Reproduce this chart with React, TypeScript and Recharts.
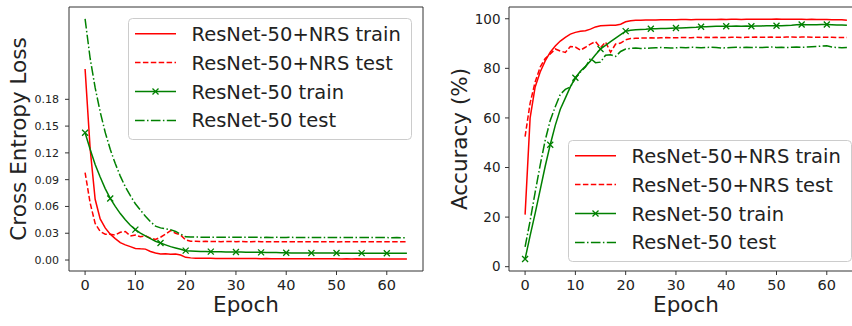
import React from "react";
import { LineChart, Line, XAxis, YAxis, ReferenceArea, Legend } from "recharts";

const epochs = Array.from({ length: 65 }, (_, i) => i);
const epochTicks = [0, 10, 20, 30, 40, 50, 60];
const lossTicks = [0, 0.03, 0.06, 0.09, 0.12, 0.15, 0.18];
const accTicks = [0, 20, 40, 60, 80, 100];

const lossNrsTrain = [
  0.214, 0.125, 0.068, 0.046, 0.036, 0.029, 0.024, 0.0195, 0.017, 0.015,
  0.013, 0.0125, 0.0122, 0.0095, 0.0078, 0.0068, 0.0069, 0.0066, 0.0068, 0.0056,
  0.003, 0.0024, 0.0021, 0.002, 0.0019, 0.0019, 0.0018, 0.0018, 0.0017, 0.0018,
  0.0017, 0.0016, 0.0017, 0.0016, 0.0016, 0.0015, 0.0016, 0.0015, 0.0015, 0.0014,
  0.0015, 0.0014, 0.0015, 0.0014, 0.0014, 0.0013, 0.0014, 0.0013, 0.0014, 0.0013,
  0.0013, 0.0012, 0.0013, 0.0012, 0.0013, 0.0012, 0.0012, 0.0011, 0.0012, 0.0012,
  0.0011, 0.0012, 0.0011, 0.0011, 0.0011,
];
const lossNrsTest = [
  0.098, 0.064, 0.041, 0.032, 0.029, 0.029, 0.028, 0.031, 0.032, 0.027,
  0.028, 0.026, 0.027, 0.0245, 0.023, 0.0255, 0.029, 0.033, 0.03, 0.028,
  0.0225, 0.021, 0.021, 0.0208, 0.021, 0.0207, 0.0208, 0.0206, 0.0207, 0.0208,
  0.0206, 0.0207, 0.0206, 0.0205, 0.0207, 0.0206, 0.0205, 0.0206, 0.0205, 0.0206,
  0.0205, 0.0206, 0.0204, 0.0205, 0.0206, 0.0205, 0.0204, 0.0205, 0.0206, 0.0204,
  0.0203, 0.0205, 0.0204, 0.0205, 0.0204, 0.0205, 0.0204, 0.0206, 0.0205, 0.0204,
  0.0205, 0.0205, 0.0206, 0.0205, 0.0205,
];
const lossBaseTrain = [
  0.1425, 0.124, 0.107, 0.093, 0.08, 0.069, 0.06, 0.052, 0.045, 0.039,
  0.034, 0.03, 0.027, 0.024, 0.021, 0.019, 0.017, 0.015, 0.0135, 0.012,
  0.0105, 0.0101, 0.0098, 0.0096, 0.0095, 0.0094, 0.0093, 0.0092, 0.0091, 0.009,
  0.009, 0.0089, 0.0088, 0.0088, 0.0087, 0.0086, 0.0085, 0.0084, 0.0083, 0.0082,
  0.0081, 0.008, 0.008, 0.0079, 0.0079, 0.0079, 0.0078, 0.0078, 0.0078, 0.0078,
  0.0078, 0.0077, 0.0077, 0.0077, 0.0077, 0.0077, 0.0076, 0.0076, 0.0076, 0.0076,
  0.0076, 0.0075, 0.0075, 0.0075, 0.0075,
];
const lossBaseTest = [
  0.27, 0.226, 0.193, 0.166, 0.143, 0.124, 0.108, 0.094, 0.082, 0.072,
  0.063, 0.056, 0.049, 0.043, 0.038, 0.036, 0.035, 0.034, 0.032, 0.029,
  0.026, 0.0258, 0.0257, 0.0256, 0.0256, 0.0255, 0.0256, 0.0255, 0.0254, 0.0255,
  0.0255, 0.0254, 0.0255, 0.0254, 0.0254, 0.0253, 0.0254, 0.0253, 0.0254, 0.0253,
  0.0253, 0.0254, 0.0253, 0.0252, 0.0253, 0.0252, 0.0253, 0.0252, 0.0252, 0.0253,
  0.0252, 0.0251, 0.0252, 0.0251, 0.0252, 0.0251, 0.0251, 0.0252, 0.0251, 0.0251,
  0.0251, 0.025, 0.0251, 0.025, 0.025,
];

const accNrsTrain = [
  21, 60, 72.5, 78.5, 83, 86.5, 89, 91, 92.5, 93.8,
  94.5, 95, 95.2, 95.8, 96.7, 97.2, 97.3, 97.4, 97.4, 97.8,
  98.8, 99.2, 99.4, 99.4, 99.5, 99.5, 99.5, 99.6, 99.6, 99.6,
  99.6, 99.7, 99.7, 99.6, 99.7, 99.7, 99.7, 99.7, 99.7, 99.8,
  99.7, 99.8, 99.8, 99.7, 99.8, 99.8, 99.8, 99.8, 99.8, 99.8,
  99.9, 99.8, 99.8, 99.8, 99.8, 99.8, 99.7, 99.8, 99.7, 99.7,
  99.7, 99.6, 99.6, 99.6, 99.4,
];
const accNrsTest = [
  52.5, 66, 74.5, 80.5, 84, 85.8, 87.8, 87, 86.4, 88.8,
  88.6, 87.3, 88.5, 89.8, 90.8, 88.3, 90.6, 86.5, 89.8, 90.2,
  91.5, 92, 92.1, 92.2, 92.2, 92.3, 92.2, 92.3, 92.4, 92.3,
  92.3, 92.4, 92.4, 92.3, 92.5, 92.4, 92.5, 92.4, 92.5, 92.4,
  92.4, 92.5, 92.5, 92.4, 92.5, 92.5, 92.6, 92.5, 92.5, 92.6,
  92.5, 92.5, 92.6, 92.6, 92.5, 92.6, 92.6, 92.5, 92.5, 92.6,
  92.5, 92.5, 92.4, 92.4, 92.4,
];
const accBaseTrain = [
  3.1, 12.5, 21.5, 31, 40.5, 49.2, 57, 63.5, 68, 72.5,
  76.2, 78.8, 80.8, 83, 85.5, 87.8, 89.3, 90.8, 92.2, 93.6,
  95, 95.4, 95.6, 95.7, 95.8, 96, 96, 96.1, 96.1, 96.2,
  96.3, 96.3, 96.4, 96.5, 96.6, 96.8, 96.8, 96.9, 97, 97,
  97, 97, 97.1, 97, 97.1, 97, 97.1, 97.1, 97.2, 97.2,
  97.2, 97.2, 97.3, 97.4, 97.6, 97.7, 97.6, 97.6, 97.6, 97.7,
  97.7, 97.6, 97.5, 97.5, 97.4,
];
const accBaseTest = [
  8, 18.5, 30, 41, 51, 59, 64.5, 69.5, 71.5, 72.5,
  76, 78.5, 80.5, 84, 82.3, 82.5, 85.3, 85.5, 84.8, 86.8,
  87.8, 88, 88.2, 88, 88.1, 88.2, 88.3, 88.4, 88.3, 88.2,
  88.3, 88.4, 88.3, 88.5, 88.4, 88.3, 88.4, 88.5, 88.4, 88.2,
  88.3, 88.4, 88.5, 88.4, 88.5, 88.4, 88.5, 88.4, 88.5, 88.6,
  88.4, 88.5, 88.4, 88.5, 88.6, 88.5, 88.6, 88.7, 88.8, 89,
  89.1, 88.6, 88.4, 88.3, 88.4,
];

const RED = "#ff0000";
const GREEN = "#008000";
const FONT = "DejaVu Sans";
const INK = "#222";
const FRAME = "#333";

// matplotlib-like 5% margins around the data
const xDomain = [-3.2, 67.2];
const lossDomain = [-0.0123, 0.2834];
const accDomain = [-1.74, 104.74];

const series = [
  { key: "nrsTrain", name: "ResNet-50+NRS train", color: RED, dash: undefined, marker: false },
  { key: "nrsTest", name: "ResNet-50+NRS test", color: RED, dash: "5.5 2.4", marker: false },
  { key: "baseTrain", name: "ResNet-50 train", color: GREEN, dash: undefined, marker: true },
  { key: "baseTest", name: "ResNet-50 test", color: GREEN, dash: "9.6 2.4 1.5 2.4", marker: false },
];

const lossData = epochs.map((e, i) => ({
  epoch: e,
  nrsTrain: lossNrsTrain[i],
  nrsTest: lossNrsTest[i],
  baseTrain: lossBaseTrain[i],
  baseTest: lossBaseTest[i],
}));

const accData = epochs.map((e, i) => ({
  epoch: e,
  nrsTrain: accNrsTrain[i],
  nrsTest: accNrsTest[i],
  baseTrain: accBaseTrain[i],
  baseTest: accBaseTest[i],
}));

const XMark = ({ cx, cy, color }: any) => (
  <path
    d={`M${cx - 3},${cy - 3}L${cx + 3},${cy + 3}M${cx - 3},${cy + 3}L${cx + 3},${cy - 3}`}
    stroke={color}
    strokeWidth={1.3}
    fill="none"
  />
);

const renderMarker = (props: any) => {
  const { cx, cy, index } = props;
  if (index % 5 !== 0) return <g key={`m-${index}`} />;
  return <XMark key={`m-${index}`} cx={cx} cy={cy} color={GREEN} />;
};

const LegendBox = () => (
  <svg width={284} height={122} style={{ display: "block" }}>
    <rect x={0.5} y={0.5} width={283} height={121} rx={4} fill="#fff" fillOpacity={0.8} stroke="#cccccc" />
    {series.map((s, i) => {
      const y = 15.7 + i * 28.9;
      return (
        <g key={s.key}>
          <line x1={7} x2={48} y1={y} y2={y} stroke={s.color} strokeWidth={1.5} strokeDasharray={s.dash} />
          {s.marker && <XMark cx={27.5} cy={y} color={s.color} />}
          <text x={63.5} y={y} dy="0.36em" fontSize={19.5} fontFamily={FONT} fill={INK}>
            {s.name}
          </text>
        </g>
      );
    })}
  </svg>
);

const lines = () =>
  series.map((s) => (
    <Line
      key={s.key}
      type="linear"
      dataKey={s.key}
      stroke={s.color}
      strokeWidth={1.5}
      strokeDasharray={s.dash}
      dot={s.marker ? renderMarker : false}
      activeDot={false}
      isAnimationActive={false}
    />
  ));

const tickStyle = (size: number) => ({ fontSize: size, fill: INK, fontFamily: FONT });

const App = () => {
  return (
    <div style={{ position: "absolute", left: 0, top: 0, width: 852, height: 326, overflow: "hidden", background: "#fff", fontFamily: FONT }}>
      <div style={{ position: "absolute", left: 0, top: 0 }}>
        <LineChart width={430} height={326} data={lossData} margin={{ top: 7, right: 7, bottom: 0, left: 0 }}>
          <XAxis
            dataKey="epoch"
            type="number"
            domain={xDomain}
            ticks={epochTicks}
            allowDataOverflow
            axisLine={false}
            tickSize={4}
            tickMargin={5}
            tickLine={{ stroke: FRAME }}
            tick={tickStyle(14.5)}
            height={55}
            label={{ value: "Epoch", position: "insideBottom", offset: 14, style: { fontSize: 21.5, fill: INK, fontFamily: FONT } }}
          />
          <YAxis
            type="number"
            domain={lossDomain}
            ticks={lossTicks}
            allowDataOverflow
            axisLine={false}
            tickSize={4}
            tickMargin={6}
            tickLine={{ stroke: FRAME }}
            tick={tickStyle(11)}
            tickFormatter={(v: number) => v.toFixed(2)}
            width={69}
            label={{ value: "Cross Entropy Loss", angle: -90, position: "insideLeft", offset: 18, style: { textAnchor: "middle", fontSize: 21.5, fill: INK, fontFamily: FONT } }}
          />
          <ReferenceArea x1={xDomain[0]} x2={xDomain[1]} y1={lossDomain[0]} y2={lossDomain[1]} fill="none" stroke={FRAME} strokeWidth={1} />
          {lines()}
          <Legend
            verticalAlign="middle"
            align="center"
            content={() => <LegendBox />}
            wrapperStyle={{ position: "absolute", left: 128, top: 18, width: 284, height: 122 }}
          />
        </LineChart>
      </div>
      <div style={{ position: "absolute", left: 430, top: 0 }}>
        <LineChart width={440} height={326} data={accData} margin={{ top: 7, right: 7, bottom: 0, left: 0 }}>
          <XAxis
            dataKey="epoch"
            type="number"
            domain={xDomain}
            ticks={epochTicks}
            allowDataOverflow
            axisLine={false}
            tickSize={4}
            tickMargin={5}
            tickLine={{ stroke: FRAME }}
            tick={tickStyle(14.5)}
            height={55}
            label={{ value: "Epoch", position: "insideBottom", offset: 14, style: { fontSize: 21.5, fill: INK, fontFamily: FONT } }}
          />
          <YAxis
            type="number"
            domain={accDomain}
            ticks={accTicks}
            allowDataOverflow
            axisLine={false}
            tickSize={4}
            tickMargin={4.5}
            tickLine={{ stroke: FRAME }}
            tick={tickStyle(13.5)}
            width={79}
            label={{ value: "Accuracy (%)", angle: -90, position: "insideLeft", offset: 29, style: { textAnchor: "middle", fontSize: 21.5, fill: INK, fontFamily: FONT } }}
          />
          <ReferenceArea x1={xDomain[0]} x2={xDomain[1]} y1={accDomain[0]} y2={accDomain[1]} fill="none" stroke={FRAME} strokeWidth={1} />
          {lines()}
          <Legend
            verticalAlign="middle"
            align="center"
            content={() => <LegendBox />}
            wrapperStyle={{ position: "absolute", left: 138, top: 140, width: 284, height: 122 }}
          />
        </LineChart>
      </div>
    </div>
  );
};

export default App;
